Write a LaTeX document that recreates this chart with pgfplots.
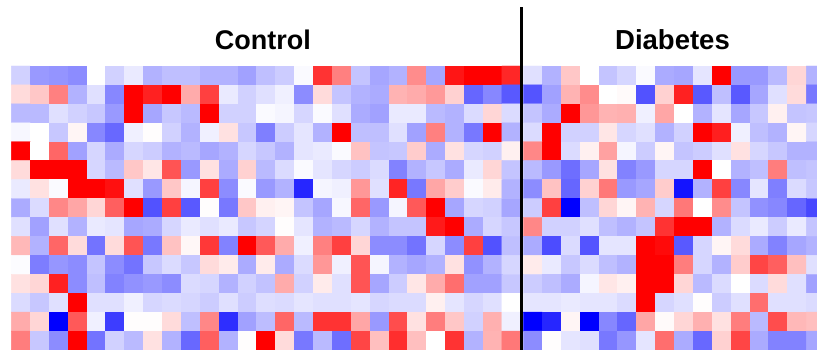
\documentclass[border=0pt]{standalone}
\usepackage{fontspec}
\setmainfont{Liberation Sans}
\usepackage{pgfplots}
\pgfplotsset{compat=1.18}
\begin{document}
\begin{tikzpicture}
\begin{axis}[
  scale only axis, width=805.7pt, height=284pt,
  xmin=-0.5, xmax=42.197, ymin=-0.5, ymax=14.5,
  y dir=reverse, hide axis, clip=false, enlargelimits=false,
  colormap={bwr}{rgb255=(0,0,255) rgb255=(255,255,255) rgb255=(255,0,0)},
  point meta min=-1, point meta max=1,
]
% Control
\addplot[matrix plot*, shader=flat corner, mesh/cols=27, mesh/rows=15, point meta=explicit] coordinates {
(0,0)[-0.18] (1,0)[-0.4] (2,0)[-0.42] (3,0)[-0.45] (4,0)[0] (5,0)[-0.18] (6,0)[-0.08] (7,0)[-0.3] (8,0)[-0.25] (9,0)[-0.25] (10,0)[-0.3] (11,0)[-0.3] (12,0)[-0.37] (13,0)[-0.25] (14,0)[-0.2] (15,0)[-0.02] (16,0)[0.8] (17,0)[0.5] (18,0)[-0.23] (19,0)[-0.35] (20,0)[-0.3] (21,0)[0.45] (22,0)[-0.35] (23,0)[0.92] (24,0)[1] (25,0)[1] (26,0)[0.85]
(0,1)[0.14] (1,1)[0.22] (2,1)[0.5] (3,1)[-0.3] (4,1)[-0.12] (5,1)[-0.47] (6,1)[1] (7,1)[0.87] (8,1)[1] (9,1)[0.33] (10,1)[0.75] (11,1)[-0.08] (12,1)[-0.18] (13,1)[-0.12] (14,1)[-0.06] (15,1)[-0.45] (16,1)[0.14] (17,1)[-0.23] (18,1)[-0.3] (19,1)[-0.33] (20,1)[0.3] (21,1)[0.33] (22,1)[0.4] (23,1)[0.18] (24,1)[-0.6] (25,1)[-0.47] (26,1)[-0.65]
(0,2)[-0.27] (1,2)[-0.27] (2,2)[-0.12] (3,2)[-0.18] (4,2)[-0.22] (5,2)[-0.4] (6,2)[1] (7,2)[-0.35] (8,2)[-0.22] (9,2)[-0.27] (10,2)[1] (11,2)[-0.18] (12,2)[-0.18] (13,2)[-0.02] (14,2)[-0.04] (15,2)[-0.16] (16,2)[-0.02] (17,2)[-0.12] (18,2)[-0.33] (19,2)[-0.37] (20,2)[-0.08] (21,2)[-0.08] (22,2)[-0.27] (23,2)[-0.3] (24,2)[-0.14] (25,2)[0.16] (26,2)[-0.14]
(0,3)[-0.03] (1,3)[0] (2,3)[-0.22] (3,3)[0.04] (4,3)[-0.47] (5,3)[-0.59] (6,3)[-0.06] (7,3)[0.01] (8,3)[-0.18] (9,3)[-0.3] (10,3)[-0.06] (11,3)[0.12] (12,3)[-0.22] (13,3)[-0.5] (14,3)[-0.2] (15,3)[-0.1] (16,3)[-0.3] (17,3)[1] (18,3)[-0.25] (19,3)[-0.25] (20,3)[-0.12] (21,3)[-0.37] (22,3)[0.5] (23,3)[-0.3] (24,3)[-0.53] (25,3)[1] (26,3)[-0.3]
(0,4)[1] (1,4)[0] (2,4)[0.6] (3,4)[-0.37] (4,4)[-0.16] (5,4)[-0.33] (6,4)[-0.16] (7,4)[-0.2] (8,4)[-0.3] (9,4)[-0.27] (10,4)[-0.35] (11,4)[-0.3] (12,4)[-0.16] (13,4)[-0.22] (14,4)[-0.3] (15,4)[-0.1] (16,4)[-0.08] (17,4)[-0.02] (18,4)[0.24] (19,4)[-0.23] (20,4)[-0.22] (21,4)[0.2] (22,4)[-0.33] (23,4)[0.12] (24,4)[-0.16] (25,4)[-0.18] (26,4)[0.06]
(0,5)[0.14] (1,5)[1] (2,5)[1] (3,5)[1] (4,5)[-0.16] (5,5)[-0.27] (6,5)[0.22] (7,5)[0.1] (8,5)[0.67] (9,5)[-0.4] (10,5)[0.12] (11,5)[-0.33] (12,5)[0.18] (13,5)[-0.27] (14,5)[-0.14] (15,5)[-0.02] (16,5)[-0.1] (17,5)[-0.16] (18,5)[-0.2] (19,5)[-0.14] (20,5)[-0.49] (21,5)[-0.3] (22,5)[-0.22] (23,5)[-0.33] (24,5)[-0.08] (25,5)[0.16] (26,5)[-0.23]
(0,6)[-0.08] (1,6)[0.12] (2,6)[-0.02] (3,6)[1] (4,6)[1] (5,6)[0.94] (6,6)[-0.12] (7,6)[-0.4] (8,6)[0.22] (9,6)[-0.04] (10,6)[0.75] (11,6)[-0.45] (12,6)[-0.02] (13,6)[-0.4] (14,6)[-0.3] (15,6)[-0.85] (16,6)[-0.04] (17,6)[-0.06] (18,6)[0.41] (19,6)[-0.12] (20,6)[0.86] (21,6)[-0.53] (22,6)[0.35] (23,6)[0.2] (24,6)[-0.02] (25,6)[0.08] (26,6)[-0.3]
(0,7)[-0.33] (1,7)[-0.14] (2,7)[0.47] (3,7)[0.35] (4,7)[0.16] (5,7)[0.63] (6,7)[1] (7,7)[-0.68] (8,7)[0.75] (9,7)[-0.65] (10,7)[0.01] (11,7)[-0.53] (12,7)[0.22] (13,7)[0.06] (14,7)[0.04] (15,7)[-0.23] (16,7)[-0.35] (17,7)[-0.03] (18,7)[0.6] (19,7)[-0.4] (20,7)[-0.04] (21,7)[0.65] (22,7)[1] (23,7)[-0.35] (24,7)[-0.16] (25,7)[-0.18] (26,7)[-0.35]
(0,8)[-0.12] (1,8)[-0.37] (2,8)[-0.12] (3,8)[-0.3] (4,8)[-0.08] (5,8)[-0.1] (6,8)[-0.35] (7,8)[-0.33] (8,8)[-0.16] (9,8)[-0.08] (10,8)[-0.12] (11,8)[-0.08] (12,8)[-0.22] (13,8)[-0.17] (14,8)[0.01] (15,8)[-0.1] (16,8)[-0.3] (17,8)[-0.27] (18,8)[-0.16] (19,8)[-0.3] (20,8)[-0.23] (21,8)[-0.23] (22,8)[0.9] (23,8)[1] (24,8)[-0.33] (25,8)[-0.16] (26,8)[-0.22]
(0,9)[0.28] (1,9)[-0.3] (2,9)[0.6] (3,9)[0.14] (4,9)[-0.55] (5,9)[0.14] (6,9)[0.67] (7,9)[-0.53] (8,9)[0.24] (9,9)[0.03] (10,9)[0.78] (11,9)[-0.49] (12,9)[1] (13,9)[0.65] (14,9)[0.33] (15,9)[-0.06] (16,9)[0.5] (17,9)[0.75] (18,9)[0.16] (19,9)[-0.45] (20,9)[-0.45] (21,9)[-0.55] (22,9)[-0.16] (23,9)[-0.45] (24,9)[0.75] (25,9)[-0.68] (26,9)[-0.25]
(0,10)[-0.01] (1,10)[-0.51] (2,10)[-0.41] (3,10)[-0.45] (4,10)[-0.23] (5,10)[-0.45] (6,10)[-0.55] (7,10)[-0.22] (8,10)[-0.14] (9,10)[-0.22] (10,10)[0.14] (11,10)[0.08] (12,10)[-0.33] (13,10)[0.08] (14,10)[-0.33] (15,10)[-0.14] (16,10)[0.41] (17,10)[-0.06] (18,10)[0.67] (19,10)[-0.04] (20,10)[-0.3] (21,10)[-0.35] (22,10)[-0.3] (23,10)[0.12] (24,10)[-0.43] (25,10)[-0.3] (26,10)[-0.16]
(0,11)[0.12] (1,11)[0.16] (2,11)[0.87] (3,11)[-0.45] (4,11)[-0.25] (5,11)[-0.49] (6,11)[-0.43] (7,11)[-0.4] (8,11)[-0.45] (9,11)[-0.14] (10,11)[-0.16] (11,11)[-0.3] (12,11)[-0.18] (13,11)[-0.24] (14,11)[0.33] (15,11)[-0.18] (16,11)[0.08] (17,11)[-0.12] (18,11)[0.67] (19,11)[-0.35] (20,11)[-0.2] (21,11)[0.1] (22,11)[0.33] (23,11)[0.57] (24,11)[-0.37] (25,11)[-0.37] (26,11)[-0.22]
(0,12)[-0.14] (1,12)[-0.22] (2,12)[-0.12] (3,12)[1] (4,12)[-0.12] (5,12)[-0.12] (6,12)[-0.06] (7,12)[-0.16] (8,12)[-0.14] (9,12)[-0.16] (10,12)[-0.2] (11,12)[-0.12] (12,12)[-0.2] (13,12)[-0.13] (14,12)[-0.14] (15,12)[-0.1] (16,12)[-0.12] (17,12)[-0.12] (18,12)[-0.1] (19,12)[-0.16] (20,12)[-0.14] (21,12)[-0.14] (22,12)[0.06] (23,12)[-0.1] (24,12)[-0.16] (25,12)[-0.12] (26,12)[0]
(0,13)[0.33] (1,13)[0.16] (2,13)[-1] (3,13)[0.65] (4,13)[-0.06] (5,13)[-0.76] (6,13)[0.01] (7,13)[0.01] (8,13)[0.14] (9,13)[-0.25] (10,13)[0.47] (11,13)[-0.82] (12,13)[-0.37] (13,13)[-0.26] (14,13)[0.6] (15,13)[-0.27] (16,13)[0.8] (17,13)[0.8] (18,13)[0.35] (19,13)[-0.4] (20,13)[0.7] (21,13)[0.12] (22,13)[0.51] (23,13)[0.22] (24,13)[-0.18] (25,13)[0.31] (26,13)[-0.06]
(0,14)[0.51] (1,14)[-0.22] (2,14)[-0.45] (3,14)[1] (4,14)[-0.55] (5,14)[-0.18] (6,14)[-0.27] (7,14)[0.12] (8,14)[-0.3] (9,14)[-0.59] (10,14)[0.63] (11,14)[-0.3] (12,14)[0.01] (13,14)[1] (14,14)[0.14] (15,14)[-0.53] (16,14)[-0.27] (17,14)[-0.57] (18,14)[0.73] (19,14)[0.25] (20,14)[0.82] (21,14)[0.25] (22,14)[0] (23,14)[0.8] (24,14)[-0.3] (25,14)[0.3] (26,14)[0.53]
};
% Diabetes
\addplot[matrix plot*, shader=flat corner, mesh/cols=16, mesh/rows=15, point meta=explicit] coordinates {
(27.13,0)[-0.12] (28.13,0)[-0.3] (29.13,0)[0.22] (30.13,0)[0] (31.13,0)[-0.23] (32.13,0)[-0.16] (33.13,0)[-0.02] (34.13,0)[-0.33] (35.13,0)[-0.35] (36.13,0)[-0.1] (37.13,0)[1] (38.13,0)[-0.4] (39.13,0)[-0.4] (40.13,0)[-0.27] (41.13,0)[0.16] (42.13,0)[-0.3]
(27.13,1)[-0.67] (28.13,1)[-0.37] (29.13,1)[0.3] (30.13,1)[0.45] (31.13,1)[0] (32.13,1)[0.02] (33.13,1)[-0.68] (34.13,1)[0.18] (35.13,1)[0.87] (36.13,1)[-0.65] (37.13,1)[-0.25] (38.13,1)[-0.65] (39.13,1)[-0.35] (40.13,1)[-0.12] (41.13,1)[0.14] (42.13,1)[-0.53]
(27.13,2)[-0.23] (28.13,2)[-0.33] (29.13,2)[1] (30.13,2)[0.41] (31.13,2)[0.3] (32.13,2)[0.31] (33.13,2)[-0.06] (34.13,2)[0.35] (35.13,2)[0] (36.13,2)[-0.3] (37.13,2)[-0.1] (38.13,2)[-0.35] (39.13,2)[-0.22] (40.13,2)[0.06] (41.13,2)[-0.23] (42.13,2)[-0.22]
(27.13,3)[-0.14] (28.13,3)[1] (29.13,3)[-0.18] (30.13,3)[-0.18] (31.13,3)[0.1] (32.13,3)[-0.16] (33.13,3)[-0.12] (34.13,3)[-0.3] (35.13,3)[-0.18] (36.13,3)[1] (37.13,3)[0.88] (38.13,3)[-0.06] (39.13,3)[-0.25] (40.13,3)[-0.3] (41.13,3)[0.04] (42.13,3)[-0.16]
(27.13,4)[0.47] (28.13,4)[1] (29.13,4)[-0.14] (30.13,4)[0.06] (31.13,4)[0.37] (32.13,4)[-0.04] (33.13,4)[-0.2] (34.13,4)[0.04] (35.13,4)[-0.23] (36.13,4)[-0.2] (37.13,4)[-0.12] (38.13,4)[0.12] (39.13,4)[-0.16] (40.13,4)[-0.22] (41.13,4)[-0.3] (42.13,4)[-0.3]
(27.13,5)[-0.27] (28.13,5)[-0.4] (29.13,5)[-0.57] (30.13,5)[-0.35] (31.13,5)[0.12] (32.13,5)[-0.49] (33.13,5)[-0.4] (34.13,5)[-0.16] (35.13,5)[-0.16] (36.13,5)[1] (37.13,5)[0] (38.13,5)[-0.3] (39.13,5)[-0.25] (40.13,5)[0.51] (41.13,5)[-0.25] (42.13,5)[-0.23]
(27.13,6)[-0.45] (28.13,6)[0.24] (29.13,6)[-0.6] (30.13,6)[0.18] (31.13,6)[0.53] (32.13,6)[-0.4] (33.13,6)[-0.35] (34.13,6)[0.2] (35.13,6)[-0.92] (36.13,6)[-0.3] (37.13,6)[0.75] (38.13,6)[-0.47] (39.13,6)[-0.1] (40.13,6)[-0.5] (41.13,6)[-0.14] (42.13,6)[-0.22]
(27.13,7)[-0.2] (28.13,7)[0.75] (29.13,7)[-1] (30.13,7)[-0.25] (31.13,7)[0.16] (32.13,7)[0.04] (33.13,7)[0.3] (34.13,7)[-0.16] (35.13,7)[0.53] (36.13,7)[0] (37.13,7)[0.45] (38.13,7)[-0.23] (39.13,7)[-0.43] (40.13,7)[-0.47] (41.13,7)[-0.6] (42.13,7)[-0.72]
(27.13,8)[0.47] (28.13,8)[-0.18] (29.13,8)[-0.18] (30.13,8)[-0.12] (31.13,8)[-0.25] (32.13,8)[-0.3] (33.13,8)[-0.23] (34.13,8)[0.8] (35.13,8)[1] (36.13,8)[1] (37.13,8)[-0.3] (38.13,8)[-0.14] (39.13,8)[-0.08] (40.13,8)[-0.2] (41.13,8)[-0.08] (42.13,8)[-0.23]
(27.13,9)[-0.33] (28.13,9)[-0.7] (29.13,9)[-0.14] (30.13,9)[-0.67] (31.13,9)[-0.1] (32.13,9)[-0.1] (33.13,9)[1] (34.13,9)[0.96] (35.13,9)[-0.65] (36.13,9)[-0.16] (37.13,9)[0.04] (38.13,9)[0.14] (39.13,9)[-0.33] (40.13,9)[-0.49] (41.13,9)[-0.35] (42.13,9)[-0.3]
(27.13,10)[0.08] (28.13,10)[-0.08] (29.13,10)[-0.22] (30.13,10)[-0.14] (31.13,10)[-0.25] (32.13,10)[-0.3] (33.13,10)[1] (34.13,10)[1] (35.13,10)[0.51] (36.13,10)[-0.16] (37.13,10)[-0.3] (38.13,10)[0.2] (39.13,10)[0.73] (40.13,10)[0.63] (41.13,10)[0.25] (42.13,10)[-0.12]
(27.13,11)[-0.2] (28.13,11)[-0.25] (29.13,11)[-0.33] (30.13,11)[-0.04] (31.13,11)[0.1] (32.13,11)[0.06] (33.13,11)[1] (34.13,11)[1] (35.13,11)[0.16] (36.13,11)[-0.27] (37.13,11)[-0.14] (38.13,11)[0] (39.13,11)[-0.14] (40.13,11)[0.14] (41.13,11)[-0.12] (42.13,11)[-0.37]
(27.13,12)[-0.1] (28.13,12)[-0.1] (29.13,12)[-0.08] (30.13,12)[-0.1] (31.13,12)[-0.1] (32.13,12)[-0.14] (33.13,12)[1] (34.13,12)[-0.16] (35.13,12)[-0.12] (36.13,12)[0.01] (37.13,12)[-0.2] (38.13,12)[-0.12] (39.13,12)[0.57] (40.13,12)[-0.12] (41.13,12)[-0.12] (42.13,12)[-0.14]
(27.13,13)[-1] (28.13,13)[-0.85] (29.13,13)[0.04] (30.13,13)[-1] (31.13,13)[-0.47] (32.13,13)[-0.6] (33.13,13)[0.35] (34.13,13)[0.02] (35.13,13)[0.16] (36.13,13)[0.31] (37.13,13)[0.12] (38.13,13)[0.51] (39.13,13)[-0.27] (40.13,13)[0.7] (41.13,13)[0.28] (42.13,13)[0.25]
(27.13,14)[-0.45] (28.13,14)[0.01] (29.13,14)[-0.1] (30.13,14)[-0.12] (31.13,14)[-0.53] (32.13,14)[-0.41] (33.13,14)[-0.1] (34.13,14)[0.57] (35.13,14)[-0.33] (36.13,14)[-0.59] (37.13,14)[0.18] (38.13,14)[0.73] (39.13,14)[-0.33] (40.13,14)[-0.49] (41.13,14)[-0.49] (42.13,14)[-0.35]
};
\draw[black, line width=3pt] (axis cs:26.537,-3.6) -- (axis cs:26.537,14.6);
\node[anchor=base, inner sep=0pt, font=\bfseries\fontsize{27}{32}\selectfont] at (axis cs:12.83,-1.382) {Control};
\node[anchor=base, inner sep=0pt, font=\bfseries\fontsize{27.5}{32}\selectfont] at (axis cs:34.54,-1.382) {Diabetes};
\coordinate (BL) at (axis cs:-0.5,14.5);
\coordinate (TR) at (axis cs:42.197,-0.5);
\end{axis}
\pgfresetboundingbox
\path[use as bounding box] ([xshift=-11.3pt]BL) rectangle ([yshift=66pt]TR);
\end{tikzpicture}
\end{document}
